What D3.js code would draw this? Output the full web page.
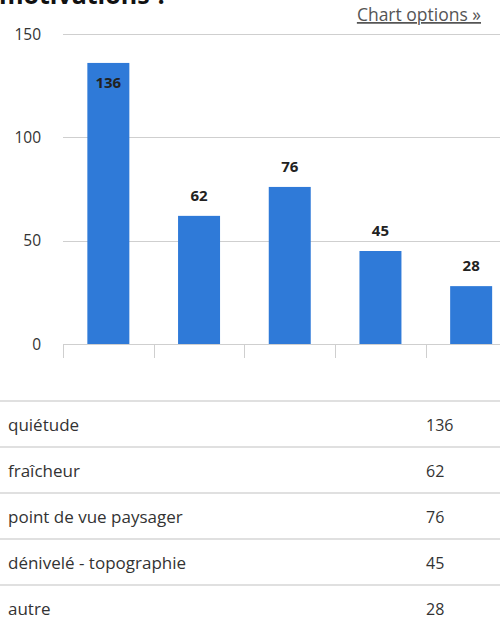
<!DOCTYPE html>
<html><head><meta charset="utf-8">
<script src="https://cdn.jsdelivr.net/npm/d3@7"></script>
<style>
body{margin:0;background:#fff;}
svg{display:block;font-family:"Open Sans",sans-serif;}
</style></head>
<body>
<svg id="c" width="500" height="628"></svg>
<script>
const categories = ["quiétude","fraîcheur","point de vue paysager","dénivelé - topographie","autre"];
const values = [136,62,76,45,28];
const yTicks = [0,50,100,150];
const titleText = "motivations ?";
const optionsText = "Chart options »";

const svg = d3.select("#c");
const x = d3.scaleBand().domain(categories).range([63,516.5]).paddingInner(0.537).paddingOuter(0.2685);
const y = d3.scaleLinear().domain([0,150]).range([344,34]);

// title (cut off by the top edge, as in the reference)
svg.append("text").attr("x",168).attr("y",4).attr("text-anchor","end")
  .attr("font-size",25).attr("font-weight","bold").attr("fill","#111").text(titleText);

// chart options
svg.append("text").attr("x",481).attr("y",21).attr("text-anchor","end")
  .attr("font-size",17.5).attr("fill","#555").attr("text-decoration","underline").text(optionsText);

// gridlines
svg.append("g").selectAll("line").data(yTicks).join("line")
  .attr("x1",63).attr("x2",500).attr("y1",d=>Math.round(y(d))+0.5).attr("y2",d=>Math.round(y(d))+0.5)
  .attr("stroke","#cfcfcf").attr("stroke-width",1);

// y labels
svg.append("g").selectAll("text").data(yTicks).join("text")
  .attr("x",41).attr("y",d=>y(d)+5.5).attr("text-anchor","end")
  .attr("font-size",15.5).attr("fill","#333").text(d=>d);

// x ticks at band boundaries
const step = x.step();
const x0 = x.range()[0];
svg.append("g").selectAll("line").data(d3.range(categories.length)).join("line")
  .attr("x1",i=>Math.round(x0+i*step)+0.5).attr("x2",i=>Math.round(x0+i*step)+0.5)
  .attr("y1",344).attr("y2",358).attr("stroke","#cfcfcf");

// bars
svg.append("g").selectAll("rect").data(values).join("rect")
  .attr("x",(d,i)=>x(categories[i])).attr("width",x.bandwidth())
  .attr("y",d=>y(d)).attr("height",d=>y(0)-y(d)).attr("fill","#2f7ad8");

// bar labels
svg.append("g").selectAll("text").data(values).join("text")
  .attr("x",(d,i)=>x(categories[i])+x.bandwidth()/2)
  .attr("y",d=> y(d) < 80 ? y(d)+25 : y(d)-15)
  .attr("text-anchor","middle").attr("font-size",15).attr("font-weight","bold")
  .attr("fill","#222").text(d=>d);

// table
const rowTop = 401, rowH = 46;
const tg = svg.append("g");
tg.selectAll("line").data(categories).join("line")
  .attr("x1",0).attr("x2",500).attr("y1",(d,i)=>rowTop+i*rowH).attr("y2",(d,i)=>rowTop+i*rowH)
  .attr("stroke","#e0e0e0").attr("stroke-width",2);
tg.selectAll("text.lab").data(categories).join("text").attr("class","lab")
  .attr("x",8).attr("y",(d,i)=>rowTop+i*rowH+30).attr("font-size",17).attr("fill","#333").text(d=>d);
tg.selectAll("text.val").data(values).join("text").attr("class","val")
  .attr("x",426).attr("y",(d,i)=>rowTop+i*rowH+30).attr("font-size",16).attr("fill","#333").text(d=>d);
</script>
</body></html>
